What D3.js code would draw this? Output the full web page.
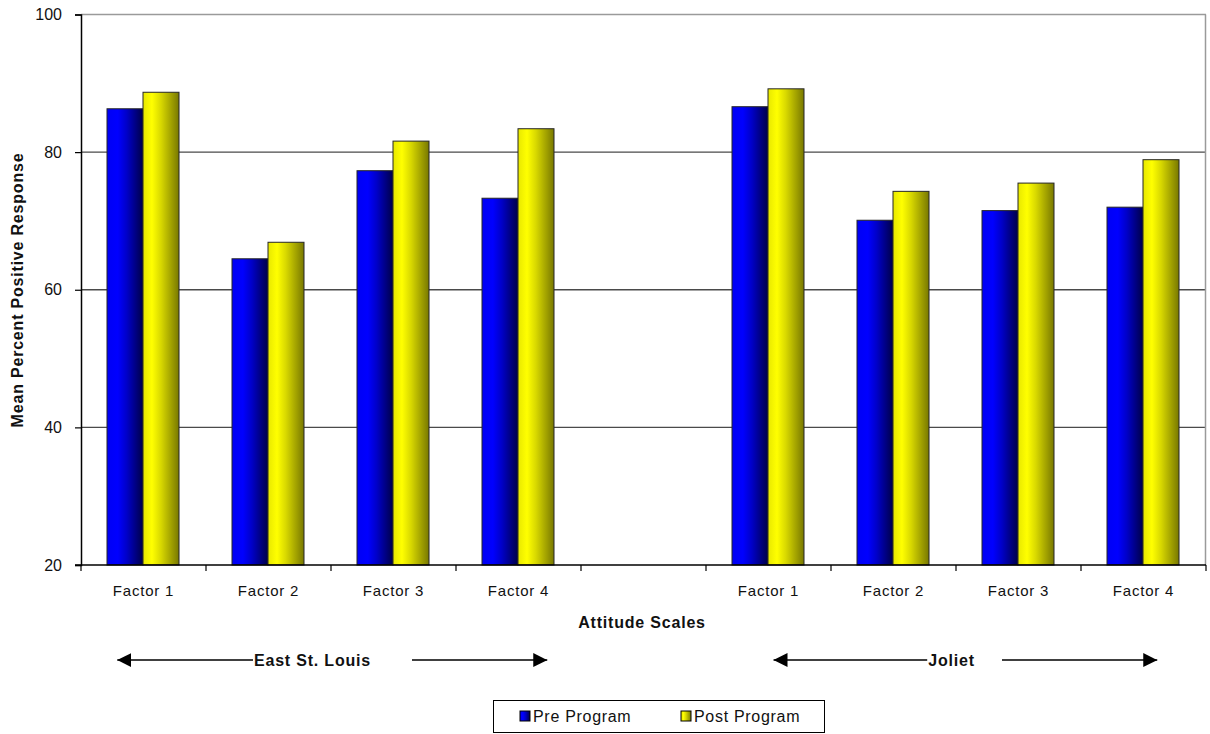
<!DOCTYPE html>
<html><head><meta charset="utf-8">
<script src="https://cdn.jsdelivr.net/npm/d3@7"></script>
<style>
html,body{margin:0;padding:0;background:#fff;}
svg{display:block;font-family:"Liberation Sans",Arial,sans-serif;}
</style></head>
<body>
<svg id="chart" width="1210" height="734"></svg>
<script>
// ---- data ----
const categories = ["Factor 1","Factor 2","Factor 3","Factor 4","","Factor 1","Factor 2","Factor 3","Factor 4"];
const preValues  = [86.3, 64.5, 77.3, 73.3, null, 86.6, 70.1, 71.5, 72.0];
const postValues = [88.7, 66.9, 81.6, 83.4, null, 89.2, 74.3, 75.5, 78.9];
const seriesNames = ["Pre Program","Post Program"];
const yTicks = [20, 40, 60, 80, 100];
const groupNames = ["East St. Louis", "Joliet"];
// arrow spans expressed in category-index units (start, label centre, resume, end)
const groupSpans = [[0.29, 1.852, 2.648, 3.73], [5.54, 6.964, 7.368, 8.61]];
const yLabel = "Mean Percent Positive Response";
const xLabel = "Attitude Scales";

(function(){
// ---- layout ----
const svg = d3.select("#chart");
const pL = 81, pR = 1206, pT = 14.5, pB = 565;
const x = d3.scaleBand().domain(d3.range(categories.length)).range([pL, pR]).padding(0);
const xc = d3.scaleLinear().domain([0, categories.length]).range([pL, pR]);
const xs = d3.scaleBand().domain(seriesNames).range([26, 98]).padding(0);
const y = d3.scaleLinear().domain([20, 100]).range([pB, pT]);

// gradients
const defs = svg.append("defs");
const gBlue = defs.append("linearGradient").attr("id","gBlue");
[["0%","#0000f4"],["30%","#0000ff"],["55%","#0000c8"],["100%","#000048"]].forEach(s=>gBlue.append("stop").attr("offset",s[0]).attr("stop-color",s[1]));
const gYel = defs.append("linearGradient").attr("id","gYel");
[["0%","#e8e800"],["25%","#ffff00"],["50%","#d8d800"],["100%","#787800"]].forEach(s=>gYel.append("stop").attr("offset",s[0]).attr("stop-color",s[1]));
const fills = {"Pre Program":"url(#gBlue)","Post Program":"url(#gYel)"};

// gridlines
svg.append("g").selectAll("line").data(yTicks.filter(t=>t>20 && t<100)).join("line")
  .attr("x1",pL).attr("x2",pR).attr("y1",d=>y(d)).attr("y2",d=>y(d))
  .attr("stroke","#4a4a4a").attr("stroke-width",1.3);
// top and right border
svg.append("line").attr("x1",pL).attr("x2",pR).attr("y1",y(100)).attr("y2",y(100)).attr("stroke","#9a9a9a").attr("stroke-width",1.5);
svg.append("line").attr("x1",pR-0.5).attr("x2",pR-0.5).attr("y1",y(100)).attr("y2",y(20)).attr("stroke","#9a9a9a").attr("stroke-width",1.5);

// bars
const data = [];
categories.forEach((c,i)=>{
  if(preValues[i]!=null) data.push({i, s:"Pre Program", v:preValues[i]});
  if(postValues[i]!=null) data.push({i, s:"Post Program", v:postValues[i]});
});
svg.append("g").selectAll("rect").data(data).join("rect")
  .attr("x",d=>x(d.i)+xs(d.s))
  .attr("width",xs.bandwidth())
  .attr("y",d=>y(d.v))
  .attr("height",d=>y(20)-y(d.v))
  .attr("fill",d=>fills[d.s])
  .attr("stroke","#262626").attr("stroke-width",1);

// y axis
const yAxis = svg.append("g").attr("transform",`translate(${pL},0)`)
  .call(d3.axisLeft(y).tickValues(yTicks).tickSize(6).tickPadding(13).tickFormat(d3.format("d")));
yAxis.select(".domain").attr("stroke","#000").attr("stroke-width",1.5);
yAxis.selectAll(".tick line").attr("stroke","#000").attr("stroke-width",1.2);
yAxis.selectAll("text").attr("font-size",16).attr("fill","#111").attr("font-family","Liberation Sans, Arial, sans-serif");

// x axis
svg.append("line").attr("x1",pL-6).attr("x2",pR).attr("y1",pB).attr("y2",pB).attr("stroke","#000").attr("stroke-width",1.5);
const tickPos = d3.range(categories.length+1).map(i => xc(i));
svg.append("g").selectAll("line").data(tickPos).join("line")
  .attr("x1",d=>d).attr("x2",d=>d).attr("y1",pB).attr("y2",pB+6)
  .attr("stroke","#000").attr("stroke-width",1.2);
svg.append("g").selectAll("text").data(categories.map((c,i)=>({c,i})).filter(d=>d.c)).join("text")
  .attr("x",d=>x(d.i)+x.bandwidth()/2).attr("y",596)
  .attr("text-anchor","middle").attr("font-size",15).attr("fill","#111")
  .attr("letter-spacing","0.8px")
  .text(d=>d.c);

// axis titles
svg.append("text").attr("x",642).attr("y",628).attr("text-anchor","middle")
  .attr("font-size",16).attr("font-weight","bold").attr("fill","#111").attr("letter-spacing","0.8px").text(xLabel);
svg.append("text").attr("transform","translate(23,290) rotate(-90)").attr("text-anchor","middle")
  .attr("font-size",16).attr("font-weight","bold").attr("fill","#111").attr("letter-spacing","0.8px").text(yLabel);

// group arrows
defs.append("marker").attr("id","ah").attr("viewBox","0 0 10 10").attr("refX",10).attr("refY",5)
  .attr("markerWidth",14).attr("markerHeight",14).attr("markerUnits","userSpaceOnUse").attr("orient","auto-start-reverse")
  .append("path").attr("d","M0,0 L10,5 L0,10 Z").attr("fill","#000");
const gl = svg.append("g");
groupNames.forEach((name,k)=>{
  const [a, c, r, b] = groupSpans[k];
  const t = gl.append("text").attr("x",xc(c)).attr("y",666).attr("text-anchor","middle")
    .attr("font-size",16).attr("font-weight","bold").attr("fill","#111").attr("letter-spacing","0.8px").text(name);
  const bb = t.node().getBBox();
  gl.append("line").attr("x1",bb.x-1).attr("x2",xc(a)).attr("y1",660).attr("y2",660)
    .attr("stroke","#000").attr("stroke-width",1.5).attr("marker-end","url(#ah)");
  gl.append("line").attr("x1",xc(r)).attr("x2",xc(b)).attr("y1",660).attr("y2",660)
    .attr("stroke","#000").attr("stroke-width",1.5).attr("marker-end","url(#ah)");
});

// legend
const lg = svg.append("g");
lg.append("rect").attr("x",493.5).attr("y",700.5).attr("width",331).attr("height",32)
  .attr("fill","#fff").attr("stroke","#000").attr("stroke-width",1);
const legX = [520, 681];
seriesNames.forEach((s,k)=>{
  lg.append("rect").attr("x",legX[k]).attr("y",711).attr("width",10).attr("height",10)
    .attr("fill",fills[s]).attr("stroke","#000").attr("stroke-width",1);
  lg.append("text").attr("x",legX[k]+13).attr("y",721.5).attr("font-size",16).attr("fill","#111")
    .attr("letter-spacing","0.7px").text(s);
});
})();
</script>
</body></html>
